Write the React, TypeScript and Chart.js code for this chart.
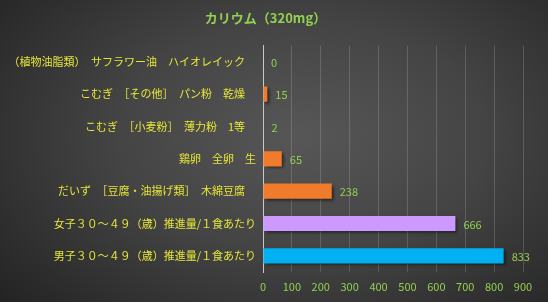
import React, { useEffect, useRef } from "react";
import { Chart, registerables } from "chart.js";

Chart.register(...registerables);

const TITLE = "カリウム（320mg）";
const categories = [
  "（植物油脂類）　サフラワー油　ハイオレイック　",
  "こむぎ　［その他］　パン粉　乾燥　",
  "こむぎ　［小麦粉］　薄力粉　1等　",
  "鶏卵　全卵　生",
  "だいず　［豆腐・油揚げ類］　木綿豆腐　",
  "女子３０～４９（歳）推進量/１食あたり",
  "男子３０～４９（歳）推進量/１食あたり",
];
const values = [0, 15, 2, 65, 238, 666, 833];
const barColors = ["#F07B2B", "#F07B2B", "#F07B2B", "#F07B2B", "#F07B2B", "#CC99FF", "#00B0F0"];
const xMax = 900;
const xStep = 100;

const FONT = "'Noto Sans CJK JP', 'Noto Sans', sans-serif";
const GREEN = "#92D050";
const YELLOW = "#E6E638";

const shadowPlugin = {
  id: "barShadow",
  beforeDatasetsDraw(chart: any) {
    const ctx = chart.ctx;
    ctx.save();
    ctx.shadowColor = "rgba(0,0,0,0.55)";
    ctx.shadowOffsetX = 2;
    ctx.shadowOffsetY = 2;
    ctx.shadowBlur = 3;
  },
  afterDatasetsDraw(chart: any) {
    chart.ctx.restore();
  },
};

const valueLabelPlugin = {
  id: "valueLabels",
  afterDatasetsDraw(chart: any) {
    const ctx = chart.ctx;
    const meta = chart.getDatasetMeta(0);
    ctx.save();
    ctx.font = `11px ${FONT}`;
    ctx.fillStyle = GREEN;
    ctx.textAlign = "left";
    ctx.textBaseline = "middle";
    meta.data.forEach((bar: any, i: number) => {
      ctx.fillText(String(values[i]), bar.x + 8, bar.y + 1);
    });
    ctx.restore();
  },
};

export default function App() {
  const canvasRef = useRef<HTMLCanvasElement>(null);

  useEffect(() => {
    document.body.style.margin = "0";
    const chart = new Chart(canvasRef.current!, {
      type: "bar",
      data: {
        labels: categories,
        datasets: [
          {
            data: values,
            backgroundColor: barColors,
            borderWidth: 0,
            barPercentage: 0.47,
            categoryPercentage: 1,
          },
        ],
      },
      options: {
        indexAxis: "y",
        animation: false,
        responsive: false,
        layout: { padding: { left: 8, right: 25, top: 0, bottom: 0 } },
        plugins: {
          legend: { display: false },
          tooltip: { enabled: false },
          title: {
            display: true,
            text: TITLE,
            color: GREEN,
            font: { family: FONT, size: 13, weight: "bold" },
            padding: { top: 10, bottom: 20 },
          },
        },
        scales: {
          x: {
            min: 0,
            max: xMax,
            ticks: {
              stepSize: xStep,
              color: GREEN,
              font: { family: FONT, size: 11 },
              padding: 8,
            },
            grid: {
              color: (c: any) => (c.tick && c.tick.value === 0 ? "rgba(0,0,0,0)" : "rgba(255,255,255,0.16)"),
              drawTicks: false,
              lineWidth: 1,
            },
            border: { display: false },
            afterFit(scale: any) {
              scale.height = 30;
            },
          },
          y: {
            ticks: {
              color: YELLOW,
              font: { family: FONT, size: 11 },
              padding: 7,
              autoSkip: false,
            },
            grid: { display: false, drawTicks: false },
            border: { display: true, color: "#C8C8C8", width: 1 },
            afterFit(scale: any) {
              scale.width = 255;
            },
          },
        },
      },
      plugins: [shadowPlugin, valueLabelPlugin],
    });
    return () => chart.destroy();
  }, []);

  return (
    <div
      style={{
        width: 548,
        height: 302,
        background:
          "radial-gradient(ellipse 75% 85% at 55% 45%, #575757 0%, #444444 45%, #2e2e2e 80%, #222222 100%)",
      }}
    >
      <canvas ref={canvasRef} width={548} height={302} style={{ display: "block" }} />
    </div>
  );
}
